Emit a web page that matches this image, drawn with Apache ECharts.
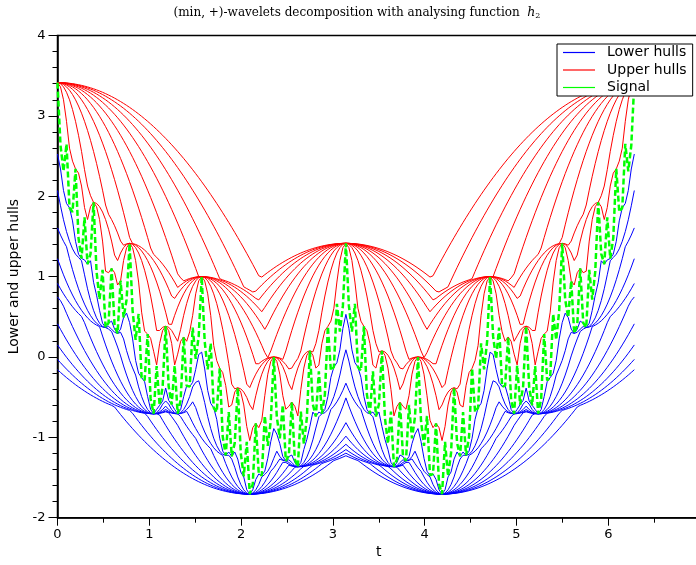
<!DOCTYPE html>
<html>
<head>
<meta charset="utf-8">
<script src="https://cdn.jsdelivr.net/npm/echarts/dist/echarts.min.js"></script>
<style>
html,body{margin:0;padding:0;background:#fff;}
#chart{width:696px;height:565px;}
</style>
</head>
<body>
<div id="chart"></div>
<script>
const T_END = 6.2832;
const signal = [
3.414, 2.634, 2.311, 2.651, 1.857, 1.803, 2.341, 1.479, 1.225, 1.736,
1.154, 1.283, 1.924, 1.062, 0.715, 1.083, 0.366, 0.425, 1.102, 0.393,
0.293, 0.949, 0.491, 0.713, 1.414, 0.575, 0.213, 0.535, -0.257, -0.291,
0.285, -0.522, -0.707, -0.113, -0.601, -0.369, 0.383, -0.364, -0.593, -0.106,
-0.707, -0.536, 0.249, -0.360, -0.369, 0.366, -0.023, 0.256, 1.000, 0.190,
-0.154, 0.170, -0.631, -0.686, -0.141, -0.990, -1.225, -0.687, -1.236, -1.069,
-0.383, -1.194, -1.485, -1.056, -1.707, -1.578, -0.826, -1.456, -1.475, -0.734,
-1.105, -0.793, 0.000, -0.746, -1.013, -0.597, -1.293, -1.232, -0.561, -1.274,
-1.366, -0.680, -1.079, -0.760, 0.076, -0.589, -0.739, -0.178, -0.707, -0.468,
0.380, -0.170, -0.125, 0.660, 0.316, 0.635, 1.414,
0.635, 0.316, 0.660, -0.125, -0.170, 0.380,
-0.468, -0.707, -0.178, -0.739, -0.589, 0.076, -0.760, -1.079, -0.680, -1.366,
-1.274, -0.561, -1.232, -1.293, -0.597, -1.013, -0.746, 0.000, -0.793, -1.105,
-0.734, -1.475, -1.456, -0.826, -1.578, -1.707, -1.056, -1.485, -1.194, -0.383,
-1.069, -1.236, -0.687, -1.225, -0.990, -0.141, -0.686, -0.631, 0.170, -0.154,
0.190, 1.000, 0.256, -0.023, 0.366, -0.369, -0.360, 0.249, -0.536, -0.707,
-0.106, -0.593, -0.364, 0.383, -0.369, -0.601, -0.113, -0.707, -0.522, 0.285,
-0.291, -0.257, 0.535, 0.213, 0.575, 1.414, 0.713, 0.491, 0.949, 0.293,
0.393, 1.102, 0.425, 0.366, 1.083, 0.715, 1.062, 1.924, 1.283, 1.154,
1.736, 1.225, 1.479, 2.341, 1.803, 1.857, 2.651, 2.311, 2.634, 3.414
];
// Scales of the analysing function h2(x) = x^2 / (2 s^2)
const scales = [0.1, 0.2, 0.3, 0.4, 0.5, 0.6, 0.7, 0.8, 0.9, 1.0];
const legendNames = ['Lower hulls', 'Upper hulls', 'Signal'];
const xRange = [0, 7];
const yRange = [-2, 4];

const t = signal.map((_, i) => T_END * i / (signal.length - 1));

// Morphological hulls of the signal: upper = dilation, lower = erosion by h2
function hull(s, upper) {
  const k = 1 / (2 * s * s);
  return t.map((ti, i) => {
    let best = upper ? -Infinity : Infinity;
    for (let j = 0; j < t.length; j++) {
      const d = ti - t[j];
      if (upper) {
        const v = signal[j] - k * d * d;
        if (v > best) best = v;
      } else {
        const v = signal[j] + k * d * d;
        if (v < best) best = v;
      }
    }
    return [ti, best];
  });
}

const series = [];
scales.forEach(s => {
  series.push({
    name: legendNames[0], type: 'line', data: hull(s, false),
    showSymbol: false, symbol: 'none', color: '#0000ff',
    lineStyle: { color: '#0000ff', width: 1 }, z: 2
  });
});
scales.forEach(s => {
  series.push({
    name: legendNames[1], type: 'line', data: hull(s, true),
    showSymbol: false, symbol: 'none', color: '#ff0000',
    lineStyle: { color: '#ff0000', width: 1 }, z: 3
  });
});
series.push({
  name: legendNames[2], type: 'line', data: t.map((ti, i) => [ti, signal[i]]),
  showSymbol: false, symbol: 'none', color: '#00ff00',
  lineStyle: { color: '#00ff00', width: 2.5, type: [6, 3] }, z: 4
});

const chart = echarts.init(document.getElementById('chart'), null, { renderer: 'canvas' });
chart.setOption({
  animation: false,
  backgroundColor: '#ffffff',
  grid: {
    left: 57.5, top: 35.5, width: 642.6, height: 482.2,
    containLabel: false, outerBoundsMode: 'none',
    show: true, borderColor: '#000', borderWidth: 1.5, backgroundColor: 'transparent'
  },
  graphic: [{
    type: 'text', x: 357, y: 13, z: 20,
    style: {
      text: '{a|(min, +)-wavelets decomposition with analysing function  }{h|h}{s|2}',
      textAlign: 'center', textVerticalAlign: 'middle',
      rich: {
        a: { fontFamily: 'DejaVu Serif', fontSize: 12, fill: '#000', verticalAlign: 'middle' },
        h: { fontFamily: 'DejaVu Serif', fontStyle: 'italic', fontSize: 12.5, fill: '#000' },
        s: { fontFamily: 'DejaVu Serif', fontSize: 8, fill: '#000', padding: [6, 0, 0, 0] }
      }
    }
  }],
  legend: {
    data: legendNames,
    orient: 'vertical', left: 557, top: 44, z: 10,
    backgroundColor: '#ffffff', borderColor: '#000', borderWidth: 1,
    padding: [1, 6, 1, 6], itemGap: 2.5,
    icon: 'rect', itemWidth: 32, itemHeight: 1.2,
    textStyle: { fontFamily: 'DejaVu Sans', fontSize: 14, color: '#000', lineHeight: 15, padding: [0, 0, 0, 7] },
    selectedMode: false
  },
  xAxis: {
    type: 'value', min: xRange[0], max: xRange[1], interval: 1,
    name: 't', nameLocation: 'middle', nameGap: 27,
    nameTextStyle: { fontFamily: 'DejaVu Sans', fontSize: 14, color: '#000' },
    axisLine: { show: true, onZero: false, lineStyle: { color: '#000', width: 1.5 } },
    axisTick: { show: true, inside: false, length: 8, lineStyle: { color: '#000' } },
    minorTick: { show: true, splitNumber: 2, length: 5, lineStyle: { color: '#000' } },
    axisLabel: { fontFamily: 'DejaVu Sans', fontSize: 13, color: '#000', margin: 10 },
    splitLine: { show: false }
  },
  yAxis: {
    type: 'value', min: yRange[0], max: yRange[1], interval: 1,
    name: 'Lower and upper hulls', nameLocation: 'middle', nameGap: 33, nameRotate: 90,
    nameTextStyle: { fontFamily: 'DejaVu Sans', fontSize: 14, color: '#000' },
    axisLine: { show: true, onZero: false, lineStyle: { color: '#000', width: 1.5 } },
    axisTick: { show: true, inside: false, length: 9, lineStyle: { color: '#000' } },
    minorTick: { show: true, splitNumber: 5, length: 5, lineStyle: { color: '#000' } },
    axisLabel: { fontFamily: 'DejaVu Sans', fontSize: 13, color: '#000', margin: 12 },
    splitLine: { show: false }
  },
  series: series
});
</script>
</body>
</html>
